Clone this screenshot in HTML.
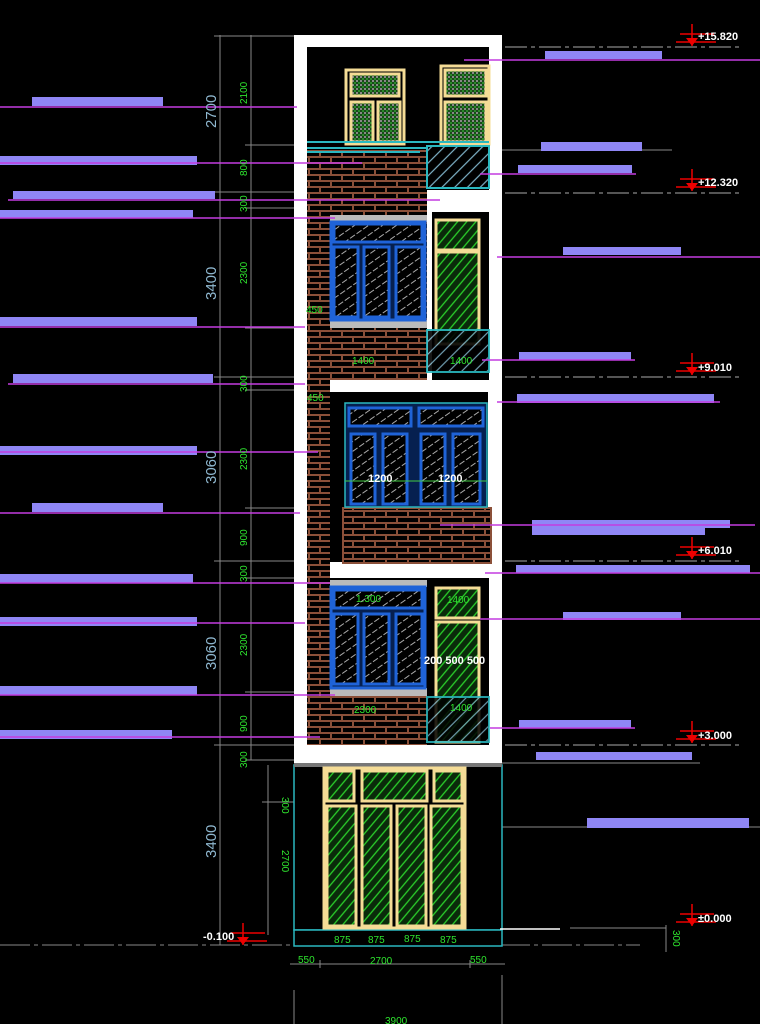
<!DOCTYPE html>
<html><head><meta charset="utf-8"><style>
html,body{margin:0;padding:0;background:#000;width:760px;height:1024px;overflow:hidden}
svg{display:block}
.g{fill:#2ee52e;font-family:"Liberation Sans",sans-serif;font-size:10px}
.b{fill:#8fb8d0;font-family:"Liberation Sans",sans-serif;font-size:15px}
.w{fill:#fff;font-family:"Liberation Sans",sans-serif;font-size:11px;font-weight:bold}
</style></head><body>
<svg width="760" height="1024" viewBox="0 0 760 1024" xmlns="http://www.w3.org/2000/svg">
<defs>
<pattern id="brick" patternUnits="userSpaceOnUse" width="22" height="12">
<rect width="22" height="12" fill="#000"/>
<path d="M0 1H22M0 7H22M1 1V7M12 7V12" stroke="#8b5039" stroke-width="2"/>
</pattern>
<pattern id="hg" patternUnits="userSpaceOnUse" width="8" height="8" patternTransform="rotate(-35)">
<rect width="8" height="8" fill="#000"/><path d="M0 4H8" stroke="#aaa" stroke-width="1" stroke-dasharray="4 2"/>
</pattern>
<pattern id="hgr" patternUnits="userSpaceOnUse" width="7" height="7" patternTransform="rotate(-50)">
<rect width="7" height="7" fill="#0a2a0a"/><path d="M0 3H7" stroke="#2bd02b" stroke-width="1.3"/>
</pattern>
<pattern id="hc" patternUnits="userSpaceOnUse" width="9" height="9" patternTransform="rotate(-45)">
<rect width="9" height="9" fill="#000"/><path d="M0 4H9" stroke="#7fb3c8" stroke-width="1.2"/>
</pattern>
<pattern id="chk" patternUnits="userSpaceOnUse" width="4" height="4">
<rect width="4" height="4" fill="#1a4a1a"/><rect width="2" height="2" fill="#888"/><rect x="2" y="2" width="2" height="2" fill="#2b8a2b"/>
</pattern>
<g id="mk"><path d="M0 -14V8M-12 -4H22M-16 4H24" stroke="#e00" stroke-width="1.5"/><path d="M-6 0H6L0 8Z" fill="#e00"/></g>
</defs>

<!-- dimension gray lines -->
<g stroke="#888" stroke-width="1">
<line x1="220" y1="35" x2="220" y2="945"/><line x1="251" y1="35" x2="251" y2="760"/>
<line x1="214" y1="36" x2="300" y2="36"/><line x1="245" y1="145" x2="300" y2="145"/>
<line x1="214" y1="192" x2="300" y2="192"/><line x1="245" y1="208" x2="300" y2="208"/>
<line x1="214" y1="377" x2="300" y2="377"/><line x1="245" y1="328" x2="300" y2="328"/>
<line x1="245" y1="390" x2="300" y2="390"/><line x1="214" y1="561" x2="300" y2="561"/>
<line x1="245" y1="508" x2="300" y2="508"/><line x1="245" y1="578" x2="300" y2="578"/>
<line x1="214" y1="745" x2="300" y2="745"/><line x1="245" y1="692" x2="300" y2="692"/>
<line x1="245" y1="760" x2="300" y2="760"/>
<line x1="268" y1="765" x2="268" y2="935"/><line x1="262" y1="802" x2="300" y2="802"/>
<line x1="0" y1="945" x2="300" y2="945" stroke-dasharray="30 4 4 4"/>
<line x1="500" y1="945" x2="640" y2="945" stroke-dasharray="30 4 4 4"/>
<line x1="290" y1="964" x2="505" y2="964"/><line x1="320" y1="960" x2="320" y2="968"/><line x1="470" y1="960" x2="470" y2="968"/>
<line x1="294" y1="990" x2="294" y2="1024"/><line x1="502" y1="975" x2="502" y2="1024"/>
<line x1="666" y1="925" x2="666" y2="952"/><line x1="570" y1="928" x2="666" y2="928"/>
<line x1="502" y1="763" x2="700" y2="763"/><line x1="500" y1="150" x2="672" y2="150"/>
<line x1="502" y1="790" x2="760" y2="778" stroke="none"/>
<line x1="490" y1="827" x2="760" y2="827"/>
</g>
<g stroke="#888" stroke-width="1.2" stroke-dasharray="22 4 4 4">
<line x1="505" y1="47" x2="740" y2="47"/><line x1="505" y1="193" x2="740" y2="193"/>
<line x1="505" y1="377" x2="740" y2="377"/><line x1="505" y1="561" x2="740" y2="561"/>
<line x1="505" y1="745" x2="740" y2="745"/>
</g>

<!-- building -->
<rect x="294" y="35" width="208" height="730" fill="#fff"/>
<rect x="307" y="47" width="182" height="105" fill="#000"/>
<rect x="307" y="150" width="120" height="230" fill="url(#brick)"/>
<rect x="427" y="150" width="62" height="40" fill="#000"/>
<rect x="432" y="212" width="57" height="168" fill="#000"/>
<rect x="307" y="380" width="23" height="365" fill="url(#brick)"/>
<rect x="330" y="392" width="158" height="170" fill="#000"/>
<rect x="343" y="508" width="148" height="55" fill="url(#brick)" stroke="#8b5039" stroke-width="2"/>
<rect x="330" y="578" width="159" height="167" fill="#000"/>
<rect x="307" y="692" width="120" height="53" fill="url(#brick)"/>
<rect x="294" y="765" width="208" height="165" fill="#000" stroke="#2ab8c0" stroke-width="1.5"/>
<rect x="294" y="930" width="208" height="16" fill="#000" stroke="#2ab8c0" stroke-width="1.5"/>
<rect x="294" y="763" width="208" height="4" fill="#777"/>

<!-- top floor windows (yellow frames, checker glass) -->
<g stroke="#f5dc96" stroke-width="3" fill="url(#chk)">
<rect x="346" y="70" width="58" height="74" fill="#000"/>
<rect x="351" y="74" width="48" height="22"/><rect x="351" y="102" width="22" height="40"/><rect x="378" y="102" width="22" height="40"/>
<rect x="441" y="66" width="48" height="78" fill="#000"/>
<rect x="445" y="70" width="41" height="26"/><rect x="445" y="102" width="41" height="40"/>
</g>
<g stroke="#2ab8c0" stroke-width="2" fill="none">
<line x1="307" y1="142" x2="489" y2="142"/><line x1="307" y1="148" x2="489" y2="148"/><line x1="307" y1="152" x2="420" y2="152"/>
<rect x="427" y="146" width="62" height="42" fill="url(#hc)"/>
</g>

<!-- 4th floor -->
<rect x="330" y="215" width="97" height="7" fill="#bbb"/>
<rect x="330" y="320" width="97" height="8" fill="#bbb"/>
<g stroke="#1f63d8" stroke-width="3">
<rect x="331" y="222" width="94" height="98" fill="#062050"/>
<rect x="334" y="224" width="88" height="18" fill="url(#hg)"/>
<rect x="334" y="247" width="24" height="70" fill="url(#hg)"/>
<rect x="364" y="247" width="25" height="70" fill="url(#hg)"/>
<rect x="396" y="247" width="26" height="70" fill="url(#hg)"/>
</g>
<g stroke="#f5dc96" stroke-width="3" fill="url(#hgr)">
<rect x="436" y="220" width="43" height="30"/><rect x="436" y="252" width="43" height="92"/>
</g>
<rect x="427" y="330" width="62" height="42" fill="url(#hc)" stroke="#2ab8c0" stroke-width="2" opacity=".9"/>
<text class="g" x="352" y="364">1400</text><text class="g" x="450" y="364">1400</text>
<text class="g" x="306" y="313" font-size="8">450</text>

<!-- 3rd floor -->
<g stroke="#1f63d8" stroke-width="3">
<rect x="345" y="403" width="142" height="104" fill="#062050" stroke="#2ab8c0" stroke-width="1.5"/>
<rect x="349" y="408" width="62" height="18" fill="url(#hg)"/><rect x="419" y="408" width="64" height="18" fill="url(#hg)"/>
<rect x="351" y="434" width="24" height="70" fill="url(#hg)"/><rect x="383" y="434" width="24" height="70" fill="url(#hg)"/>
<rect x="421" y="434" width="24" height="70" fill="url(#hg)"/><rect x="453" y="434" width="27" height="70" fill="url(#hg)"/>
</g>
<line x1="345" y1="481" x2="487" y2="481" stroke="#4c4" stroke-width="1"/>
<text class="w" x="368" y="482" font-size="10">1200</text><text class="w" x="438" y="482" font-size="10">1200</text>
<text class="g" x="307" y="401" font-size="8">450</text>

<!-- 2nd floor -->
<rect x="330" y="580" width="97" height="7" fill="#bbb"/>
<rect x="330" y="688" width="97" height="8" fill="#bbb"/>
<g stroke="#1f63d8" stroke-width="3">
<rect x="331" y="587" width="94" height="101" fill="#062050"/>
<rect x="334" y="590" width="88" height="18" fill="url(#hg)"/>
<rect x="334" y="614" width="24" height="70" fill="url(#hg)"/>
<rect x="364" y="614" width="25" height="70" fill="url(#hg)"/>
<rect x="396" y="614" width="26" height="70" fill="url(#hg)"/>
</g>
<g stroke="#f5dc96" stroke-width="3" fill="url(#hgr)">
<rect x="436" y="588" width="43" height="30"/><rect x="436" y="622" width="43" height="120"/>
</g>
<rect x="427" y="697" width="62" height="45" fill="url(#hc)" stroke="#2ab8c0" stroke-width="2" opacity=".85"/>
<text class="g" x="356" y="602">1.300</text><text class="g" x="447" y="603">1400</text>
<text class="w" x="424" y="664" font-size="9">200 500 500</text>
<text class="g" x="354" y="713">2300</text><text class="g" x="450" y="711">1400</text>

<!-- ground door -->
<g stroke="#f5dc96" stroke-width="3" fill="url(#hgr)">
<rect x="324" y="768" width="141" height="160" fill="#000"/>
<rect x="327" y="771" width="27" height="30"/><rect x="362" y="771" width="65" height="30"/><rect x="434" y="771" width="28" height="30"/>
<rect x="327" y="806" width="29" height="120"/><rect x="362" y="806" width="29" height="120"/>
<rect x="397" y="806" width="29" height="120"/><rect x="431" y="806" width="31" height="120"/>
</g>
<text class="g" x="334" y="943" font-size="8">875</text><text class="g" x="368" y="943" font-size="8">875</text>
<text class="g" x="404" y="942" font-size="8">875</text><text class="g" x="440" y="943" font-size="8">875</text>
<line x1="500" y1="929" x2="560" y2="929" stroke="#fff" stroke-width="1.5"/>

<!-- purple bars -->
<g fill="#8f86f5">
<rect x="32" y="97" width="131" height="9"/><rect x="0" y="156" width="197" height="9"/>
<rect x="13" y="191" width="202" height="8"/><rect x="0" y="210" width="193" height="8"/>
<rect x="0" y="317" width="197" height="9"/><rect x="13" y="374" width="200" height="9"/>
<rect x="0" y="446" width="197" height="9"/><rect x="32" y="503" width="131" height="9"/>
<rect x="0" y="574" width="193" height="9"/><rect x="0" y="617" width="197" height="9"/>
<rect x="0" y="686" width="197" height="9"/><rect x="0" y="730" width="172" height="9"/>
<rect x="545" y="51" width="117" height="8"/><rect x="541" y="142" width="101" height="9"/>
<rect x="518" y="165" width="114" height="8"/><rect x="563" y="247" width="118" height="8"/>
<rect x="519" y="352" width="112" height="8"/><rect x="517" y="394" width="197" height="9"/>
<rect x="532" y="520" width="198" height="8"/><rect x="532" y="528" width="173" height="7"/>
<rect x="516" y="565" width="234" height="8"/><rect x="563" y="612" width="118" height="8"/>
<rect x="519" y="720" width="112" height="8"/><rect x="536" y="752" width="156" height="8"/>
<rect x="587" y="818" width="162" height="10"/>
</g>
<!-- magenta leader lines -->
<g stroke="#c43ce0" stroke-width="1.6">
<line x1="0" y1="107" x2="297" y2="107"/><line x1="0" y1="163" x2="362" y2="163"/>
<line x1="8" y1="200" x2="440" y2="200"/><line x1="0" y1="218" x2="335" y2="218"/>
<line x1="0" y1="327" x2="305" y2="327"/><line x1="8" y1="384" x2="305" y2="384"/>
<line x1="0" y1="452" x2="318" y2="452"/><line x1="0" y1="513" x2="300" y2="513"/>
<line x1="0" y1="583" x2="330" y2="583"/><line x1="0" y1="623" x2="305" y2="623"/>
<line x1="0" y1="695" x2="335" y2="695"/><line x1="0" y1="737" x2="320" y2="737"/>
<line x1="464" y1="60" x2="760" y2="60"/><line x1="480" y1="174" x2="636" y2="174"/>
<line x1="497" y1="257" x2="760" y2="257"/><line x1="482" y1="360" x2="635" y2="360"/>
<line x1="497" y1="402" x2="720" y2="402"/><line x1="440" y1="525" x2="755" y2="525"/>
<line x1="485" y1="573" x2="760" y2="573"/><line x1="480" y1="619" x2="760" y2="619"/>
<line x1="490" y1="728" x2="635" y2="728"/>
</g>

<!-- elevation markers -->
<use href="#mk" x="692" y="38"/><use href="#mk" x="692" y="183"/><use href="#mk" x="692" y="367"/>
<use href="#mk" x="692" y="551"/><use href="#mk" x="692" y="735"/><use href="#mk" x="692" y="918"/>
<use href="#mk" x="243" y="937"/>
<text class="w" x="698" y="40">+15.820</text><text class="w" x="698" y="186">+12.320</text>
<text class="w" x="698" y="371">+9.010</text><text class="w" x="698" y="554">+6.010</text>
<text class="w" x="698" y="739">+3.000</text><text class="w" x="698" y="922">±0.000</text>
<text class="w" x="203" y="940">-0.100</text>

<!-- rotated dims -->
<g>
<text class="b" transform="translate(216,128) rotate(-90)">2700</text>
<text class="b" transform="translate(216,300) rotate(-90)">3400</text>
<text class="b" transform="translate(216,484) rotate(-90)">3060</text>
<text class="b" transform="translate(216,670) rotate(-90)">3060</text>
<text class="b" transform="translate(216,858) rotate(-90)">3400</text>
<text class="g" transform="translate(247,104) rotate(-90)">2100</text>
<text class="g" transform="translate(247,176) rotate(-90)">800</text>
<text class="g" transform="translate(247,212) rotate(-90)">300</text>
<text class="g" transform="translate(247,284) rotate(-90)">2300</text>
<text class="g" transform="translate(247,392) rotate(-90)">300</text>
<text class="g" transform="translate(247,470) rotate(-90)">2300</text>
<text class="g" transform="translate(247,546) rotate(-90)">900</text>
<text class="g" transform="translate(247,582) rotate(-90)">300</text>
<text class="g" transform="translate(247,656) rotate(-90)">2300</text>
<text class="g" transform="translate(247,732) rotate(-90)">900</text>
<text class="g" transform="translate(247,768) rotate(-90)">300</text>
<text class="g" transform="translate(282,797) rotate(90)" font-size="11">300</text>
<text class="g" transform="translate(282,850) rotate(90)" font-size="11">2700</text>
<text class="g" transform="translate(673,930) rotate(90)">300</text>
</g>
<text class="g" x="298" y="963" font-size="12">550</text>
<text class="g" x="370" y="964">2700</text>
<text class="g" x="470" y="963" font-size="12">550</text>
<text class="g" x="385" y="1024" font-size="12">3900</text>
</svg>
</body></html>
